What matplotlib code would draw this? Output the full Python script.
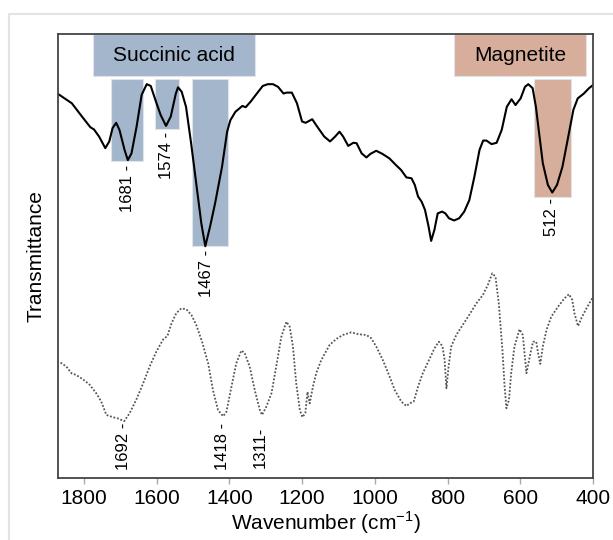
import numpy as np
import matplotlib
matplotlib.use("Agg")
import matplotlib.pyplot as plt
from matplotlib.patches import Rectangle
from matplotlib.lines import Line2D

plt.rcParams['font.family'] = ['Liberation Sans', 'DejaVu Sans']

# upper spectrum (solid): wavenumber, transmittance (arb. units)
wn_top = [1871, 1833, 1805, 1782, 1772, 1758, 1741, 1730, 1721, 1711, 1702, 1688, 1679, 1669,
          1655, 1641, 1627, 1616, 1603, 1589, 1574, 1561, 1547, 1541, 1531, 1519, 1505, 1491,
          1477, 1466, 1453, 1439, 1420, 1406, 1397, 1383, 1364, 1355, 1341, 1327, 1308, 1294,
          1280, 1266, 1251, 1242, 1228, 1214, 1200, 1190, 1172, 1158, 1139, 1123, 1109, 1097,
          1087, 1073, 1059, 1050, 1036, 1023, 1012, 996, 979, 960, 942, 928, 913, 899, 890,
          881, 871, 862, 852, 845, 836, 827, 815, 806, 796, 782, 768, 754, 740, 726, 712, 702,
          693, 679, 665, 651, 637, 624, 613, 599, 587, 578, 566, 557, 547, 538, 524, 512, 499,
          484, 468, 454, 442, 425, 411, 400]
t_top = [86.5, 84.4, 81.4, 79.0, 78.5, 76.9, 74.3, 75.8, 78.8, 80.0, 78.4, 73.9, 71.6, 73.1,
         79.1, 86.3, 88.7, 88.3, 85.1, 81.8, 79.3, 81.4, 86.6, 88.0, 87.0, 83.6, 75.4, 66.4,
         57.4, 52.2, 56.6, 61.9, 70.1, 78.0, 80.6, 82.5, 83.8, 83.5, 84.8, 86.3, 88.3, 88.7,
         88.7, 88.1, 86.6, 86.8, 86.8, 84.4, 80.3, 80.0, 80.8, 79.1, 76.9, 75.8, 76.9, 78.0,
         76.9, 74.8, 75.5, 75.4, 73.1, 72.2, 73.0, 73.7, 73.0, 72.0, 70.5, 69.4, 67.7, 67.5, 66.0,
         63.4, 62.2, 60.4, 56.6, 53.4, 55.9, 59.6, 60.0, 59.6, 58.5, 58.0, 58.5, 60.0, 62.6, 67.9, 73.9, 76.0,
         76.0, 75.2, 75.5, 78.4, 83.6, 85.3, 84.0, 85.5, 88.1, 88.7, 87.8, 83.6, 76.9, 70.9, 66.0, 64.3, 66.0,
         70.1, 76.9, 82.9, 85.5, 86.6, 87.8, 88.5]

# lower spectrum (dotted)
wn_bot = [1864, 1848, 1834, 1821, 1802, 1784, 1766, 1752, 1738, 1720, 1706, 1689, 1674, 1656,
          1637, 1619, 1601, 1582, 1570, 1559, 1546, 1532, 1518, 1504, 1491, 1475, 1458, 1445,
          1431, 1417, 1408, 1394, 1381, 1367, 1358, 1344, 1330, 1316, 1310, 1298, 1284, 1271,
          1257, 1243, 1234, 1225, 1216, 1206, 1199, 1191, 1185, 1179, 1170, 1161, 1147, 1124,
          1106, 1088, 1065, 1046, 1023, 1010, 996, 978, 959, 945, 927, 913, 904, 893, 881, 868,
          849, 836, 824, 814, 808, 803, 797, 790, 776, 758, 739, 721, 703, 689, 677, 668, 659,
          649, 643, 638, 631, 625, 616, 602, 593, 583, 574, 565, 556, 551, 545, 538, 528, 515,
          496, 478, 466, 457, 451, 441, 432, 418, 402]
t_bot = [26.0, 25.1, 23.6, 23.2, 22.2, 21.0, 19.1, 17.2, 14.2, 13.7, 13.4, 12.8, 14.6, 17.6,
         21.3, 25.1, 28.4, 31.2, 32.0, 34.8, 37.1, 38.2, 38.0, 36.7, 34.5, 30.7, 25.8, 19.8,
         15.3, 13.9, 14.9, 20.6, 25.8, 28.7, 28.2, 25.1, 19.8, 15.3, 14.2, 16.1, 19.1, 25.1,
         31.8, 35.2, 34.1, 29.6, 21.3, 15.3, 13.7, 14.6, 19.4, 16.8, 20.6, 23.6, 26.6, 30.0,
         31.3, 32.2, 32.8, 32.4, 32.2, 31.5, 29.6, 26.6, 22.8, 19.8, 17.2, 16.2, 16.8, 17.2, 20.6, 23.6,
         26.9, 29.2, 30.7, 29.7, 26.6, 20.2, 25.1, 29.6, 32.2, 34.5, 36.9, 39.3, 41.2, 43.5, 46.1, 45.3, 39.3,
         28.8, 20.6, 15.7, 17.6, 23.6, 29.6, 33.5, 32.2, 23.6, 27.3, 30.7, 30.7, 28.1, 25.7, 29.6, 33.3, 36.3,
         38.6, 40.5, 41.4, 40.1, 37.1, 34.2, 36.0, 38.2, 40.5]

# band boxes: (high wn, low wn, bottom)
group_names = ["Succinic acid", "Magnetite"]
group_spans = [(1775, 1330), (782, 419)]
group_colors = ["#a4b6cb", "#d7ae9b"]
band_spans = [(1726, 1638, 71.4), (1605, 1539, 78.6), (1503, 1404, 52.3), (562, 460, 63.3)]
band_groups = [0, 0, 0, 1]

# peak labels: text, wn, y of top
peak_text = ["1681 -", "1574 -", "1467 -", "512 -", "1692 -", "1418 -", "1311-"]
peak_wn = [1679, 1574, 1464, 513, 1690, 1418, 1316]
peak_y = [70.5, 77.9, 51.4, 63.1, 12.4, 12.4, 11.5]

fig = plt.figure(figsize=(6.13, 5.40), dpi=100)
ax = fig.add_axes([58/613, 1 - 478/540, 535/613, 444/540])

# outer light frame
fx = 9/613
fy = 1 - 14/540
fig.add_artist(Line2D([fx, fx, 1.0], [0.0, fy, fy], transform=fig.transFigure,
                      color="#e3e3e3", lw=1.5))

for name, (a, b), c in zip(group_names, group_spans, group_colors):
    ax.add_patch(Rectangle((b, 90.5), a - b, 9.5, facecolor=c, edgecolor="#dfe4ea", lw=0.8, zorder=1))
    ax.text((a + b) / 2, 95.2, name, ha="center", va="center", fontsize=15, zorder=3)

for (a, b, bot), g in zip(band_spans, band_groups):
    ax.add_patch(Rectangle((b, bot), a - b, 89.9 - bot, facecolor=group_colors[g],
                           edgecolor="#dfe4ea", lw=0.8, zorder=1))

ax.plot(wn_top, t_top, color="black", lw=1.5, zorder=2, solid_joinstyle="round")
ax.plot(wn_bot, t_bot, color="#555555", lw=1.3, ls=(0, (1, 1)), zorder=2)

for s, x, y in zip(peak_text, peak_wn, peak_y):
    ax.text(x, y, s, rotation=90, ha="center", va="top", fontsize=12, zorder=3)

ax.set_xlim(1871, 400)
ax.set_ylim(0, 100)
ax.set_xticks([1800, 1600, 1400, 1200, 1000, 800, 600, 400])
ax.set_yticks([])
ax.tick_params(axis="x", direction="out", length=4, width=1, color="#aaaaaa",
               labelsize=15, pad=4)
for sp in ax.spines.values():
    sp.set_color("#444444")
    sp.set_linewidth(1.3)

ax.set_xlabel("Wavenumber (cm$^{\\mathregular{-1}}$)", fontsize=15, labelpad=1)
ax.set_ylabel("Transmittance", fontsize=15, labelpad=9)

fig.savefig("out.png", dpi=100)
